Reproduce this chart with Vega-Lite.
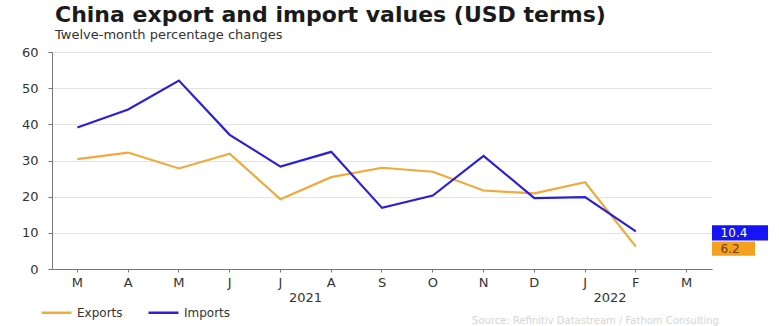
{
  "$schema": "https://vega.github.io/schema/vega-lite/v6.json",
  "width": 660,
  "height": 217,
  "autosize": {"type": "none"},
  "padding": {"left": 52, "top": 52, "right": 67, "bottom": 57},
  "background": "white",
  "title": {
    "text": "China export and import values (USD terms)",
    "subtitle": "Twelve-month percentage changes",
    "anchor": "start",
    "frame": "group",
    "font": "DejaVu Sans",
    "fontSize": 22,
    "fontWeight": "bold",
    "color": "#1a1a1a",
    "subtitleFont": "DejaVu Sans",
    "subtitleFontSize": 13,
    "subtitleColor": "#333333",
    "subtitlePadding": 2,
    "offset": 3,
    "dx": 3
  },
  "data": {
    "values": [
      {"kind": "series", "month": "2021-03", "series": "Exports", "value": 30.4},
      {"kind": "series", "month": "2021-04", "series": "Exports", "value": 32.2},
      {"kind": "series", "month": "2021-05", "series": "Exports", "value": 27.8},
      {"kind": "series", "month": "2021-06", "series": "Exports", "value": 31.9},
      {"kind": "series", "month": "2021-07", "series": "Exports", "value": 19.3},
      {"kind": "series", "month": "2021-08", "series": "Exports", "value": 25.4},
      {"kind": "series", "month": "2021-09", "series": "Exports", "value": 28.0},
      {"kind": "series", "month": "2021-10", "series": "Exports", "value": 26.9},
      {"kind": "series", "month": "2021-11", "series": "Exports", "value": 21.7},
      {"kind": "series", "month": "2021-12", "series": "Exports", "value": 20.9},
      {"kind": "series", "month": "2022-01", "series": "Exports", "value": 24.0},
      {"kind": "series", "month": "2022-02", "series": "Exports", "value": 6.2},
      {"kind": "series", "month": "2021-03", "series": "Imports", "value": 39.1},
      {"kind": "series", "month": "2021-04", "series": "Imports", "value": 44.1},
      {"kind": "series", "month": "2021-05", "series": "Imports", "value": 52.1},
      {"kind": "series", "month": "2021-06", "series": "Imports", "value": 37.1},
      {"kind": "series", "month": "2021-07", "series": "Imports", "value": 28.3},
      {"kind": "series", "month": "2021-08", "series": "Imports", "value": 32.4},
      {"kind": "series", "month": "2021-09", "series": "Imports", "value": 16.9},
      {"kind": "series", "month": "2021-10", "series": "Imports", "value": 20.3},
      {"kind": "series", "month": "2021-11", "series": "Imports", "value": 31.3},
      {"kind": "series", "month": "2021-12", "series": "Imports", "value": 19.6},
      {"kind": "series", "month": "2022-01", "series": "Imports", "value": 19.9},
      {"kind": "series", "month": "2022-02", "series": "Imports", "value": 10.4},
      {"kind": "year", "month": "2021-07", "label": "2021", "value": 0},
      {"kind": "year", "month": "2022-01", "label": "2022", "value": 0},
      {"kind": "latest", "month": "2022-03", "series": "Imports", "value": 10.4, "label": "10.4"},
      {"kind": "latest", "month": "2022-03", "series": "Exports", "value": 6.2, "label": "6.2"}
    ]
  },
  "config": {
    "view": {"stroke": null}
  },
  "encoding": {
    "x": {
      "field": "month",
      "type": "ordinal",
      "scale": {
        "type": "band",
        "domain": ["2021-03","2021-04","2021-05","2021-06","2021-07","2021-08","2021-09","2021-10","2021-11","2021-12","2022-01","2022-02","2022-03"],
        "paddingInner": 0,
        "paddingOuter": 0
      },
      "axis": {
        "labelExpr": "['J','F','M','A','M','J','J','A','S','O','N','D'][toNumber(slice(datum.value,5,7))-1]",
        "labelAngle": 0,
        "labelFont": "DejaVu Sans",
        "labelFontSize": 13,
        "labelColor": "#333333",
        "labelPadding": 4,
        "tickSize": 3,
        "tickColor": "#777777",
        "domainColor": "#777777",
        "grid": false,
        "title": "Source: Refinitiv Datastream / Fathom Consulting",
        "titleFont": "DejaVu Sans",
        "titleFontSize": 10,
        "titleFontWeight": "normal",
        "titleColor": "#d5d5d5",
        "titleX": 543,
        "titleY": 54,
        "titleAlign": "center",
        "titleBaseline": "alphabetic"
      }
    },
    "y": {
      "field": "value",
      "type": "quantitative",
      "scale": {"domain": [0, 60], "nice": false},
      "axis": {
        "values": [0, 10, 20, 30, 40, 50, 60],
        "title": null,
        "labelFont": "DejaVu Sans",
        "labelFontSize": 13,
        "labelColor": "#333333",
        "labelPadding": 10,
        "tickSize": 4,
        "tickColor": "#777777",
        "domainColor": "#777777",
        "gridColor": "#e3e3e3"
      }
    }
  },
  "layer": [
    {
      "transform": [{"filter": "datum.kind == 'series'"}],
      "mark": {"type": "line", "strokeWidth": 2.2},
      "encoding": {
        "color": {
          "field": "series",
          "type": "nominal",
          "scale": {"domain": ["Exports", "Imports"], "range": ["#f2a93b", "#2b1fd8"]},
          "legend": {
            "title": null,
            "orient": "none",
            "legendX": -12,
            "legendY": 244,
            "direction": "horizontal",
            "symbolType": "stroke",
            "symbolSize": 900,
            "symbolStrokeWidth": 2.5,
            "labelFont": "DejaVu Sans",
            "labelFontSize": 12,
            "labelColor": "#333333",
            "columnPadding": 20
          }
        }
      }
    },
    {
      "transform": [{"filter": "datum.kind == 'year'"}],
      "mark": {"type": "text", "font": "DejaVu Sans", "fontSize": 13, "color": "#333333", "baseline": "middle", "dx": 25, "dy": 29},
      "encoding": {
        "text": {"field": "label"}
      }
    },
    {
      "transform": [{"filter": "datum.kind == 'latest' && datum.series == 'Imports'"}],
      "mark": {"type": "point", "shape": "M0,-0.27L2,-0.27L2,0.27L0,0.27Z", "size": 3136, "filled": true, "opacity": 1, "color": "#1414f5", "xOffset": 25.4, "yOffset": 1.5},
      "encoding": {}
    },
    {
      "transform": [{"filter": "datum.kind == 'latest' && datum.series == 'Exports'"}],
      "mark": {"type": "point", "shape": "M0,-0.33L2,-0.33L2,0.33L0,0.33Z", "size": 1849, "filled": true, "opacity": 1, "color": "#f5a01e", "xOffset": 25.4, "yOffset": 2},
      "encoding": {}
    },
    {
      "transform": [{"filter": "datum.kind == 'latest' && datum.series == 'Imports'"}],
      "mark": {"type": "text", "font": "DejaVu Sans", "fontSize": 12, "align": "left", "baseline": "middle", "dx": 34, "dy": 1.5, "color": "white"},
      "encoding": {
        "text": {"field": "label"}
      }
    },
    {
      "transform": [{"filter": "datum.kind == 'latest' && datum.series == 'Exports'"}],
      "mark": {"type": "text", "font": "DejaVu Sans", "fontSize": 12, "align": "left", "baseline": "middle", "dx": 34, "dy": 2, "color": "#6a4200"},
      "encoding": {
        "text": {"field": "label"}
      }
    }
  ]
}
